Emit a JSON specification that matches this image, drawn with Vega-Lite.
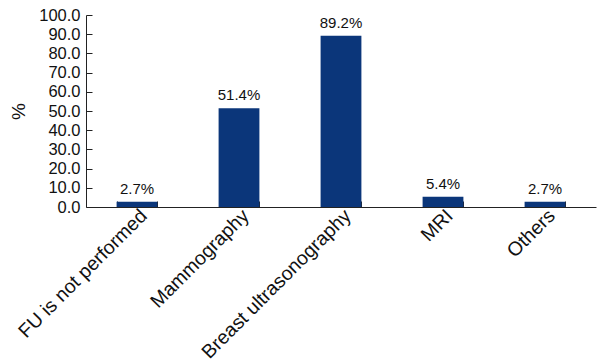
{
  "$schema": "https://vega.github.io/schema/vega-lite/v6.json",
  "autosize": "none",
  "width": 510,
  "height": 192,
  "padding": {"left": 86, "top": 15, "right": 4, "bottom": 153},
  "background": "white",
  "config": {
    "view": {"stroke": null},
    "font": "Liberation Sans",
    "axis": {"labelFont": "Liberation Sans", "titleFont": "Liberation Sans", "labelColor": "#111", "titleColor": "#111", "domainColor": "#222", "tickColor": "#222", "grid": false}
  },
  "data": {
    "values": [
      {"method": "FU is not performed", "pct": 2.7},
      {"method": "Mammography", "pct": 51.4},
      {"method": "Breast ultrasonography", "pct": 89.2},
      {"method": "MRI", "pct": 5.4},
      {"method": "Others", "pct": 2.7}
    ]
  },
  "encoding": {
    "x": {
      "field": "method", "type": "nominal", "sort": null,
      "scale": {"paddingInner": 0.6, "paddingOuter": 0.3},
      "axis": {"title": null, "labelAngle": -45, "labelFontSize": 19.5, "tickBand": "extent", "tickSize": -6, "labelPadding": 5, "labelLimit": 300}
    },
    "y": {
      "field": "pct", "type": "quantitative",
      "scale": {"domain": [0, 100]},
      "axis": {"title": "%", "titleFontSize": 19, "titleFontWeight": "normal", "titleAngle": -90, "titlePadding": 10, "values": [0,10,20,30,40,50,60,70,80,90,100], "format": ".1f", "labelFontSize": 16.5, "tickSize": -6, "labelPadding": 12}
    }
  },
  "layer": [
    {"mark": {"type": "bar", "color": "#0b367a"}},
    {"mark": {"type": "text", "baseline": "bottom", "dy": -5, "fontSize": 15, "color": "#111",
      "text": {"expr": "format(datum.pct, '.1f') + '%'"}}}
  ]
}
